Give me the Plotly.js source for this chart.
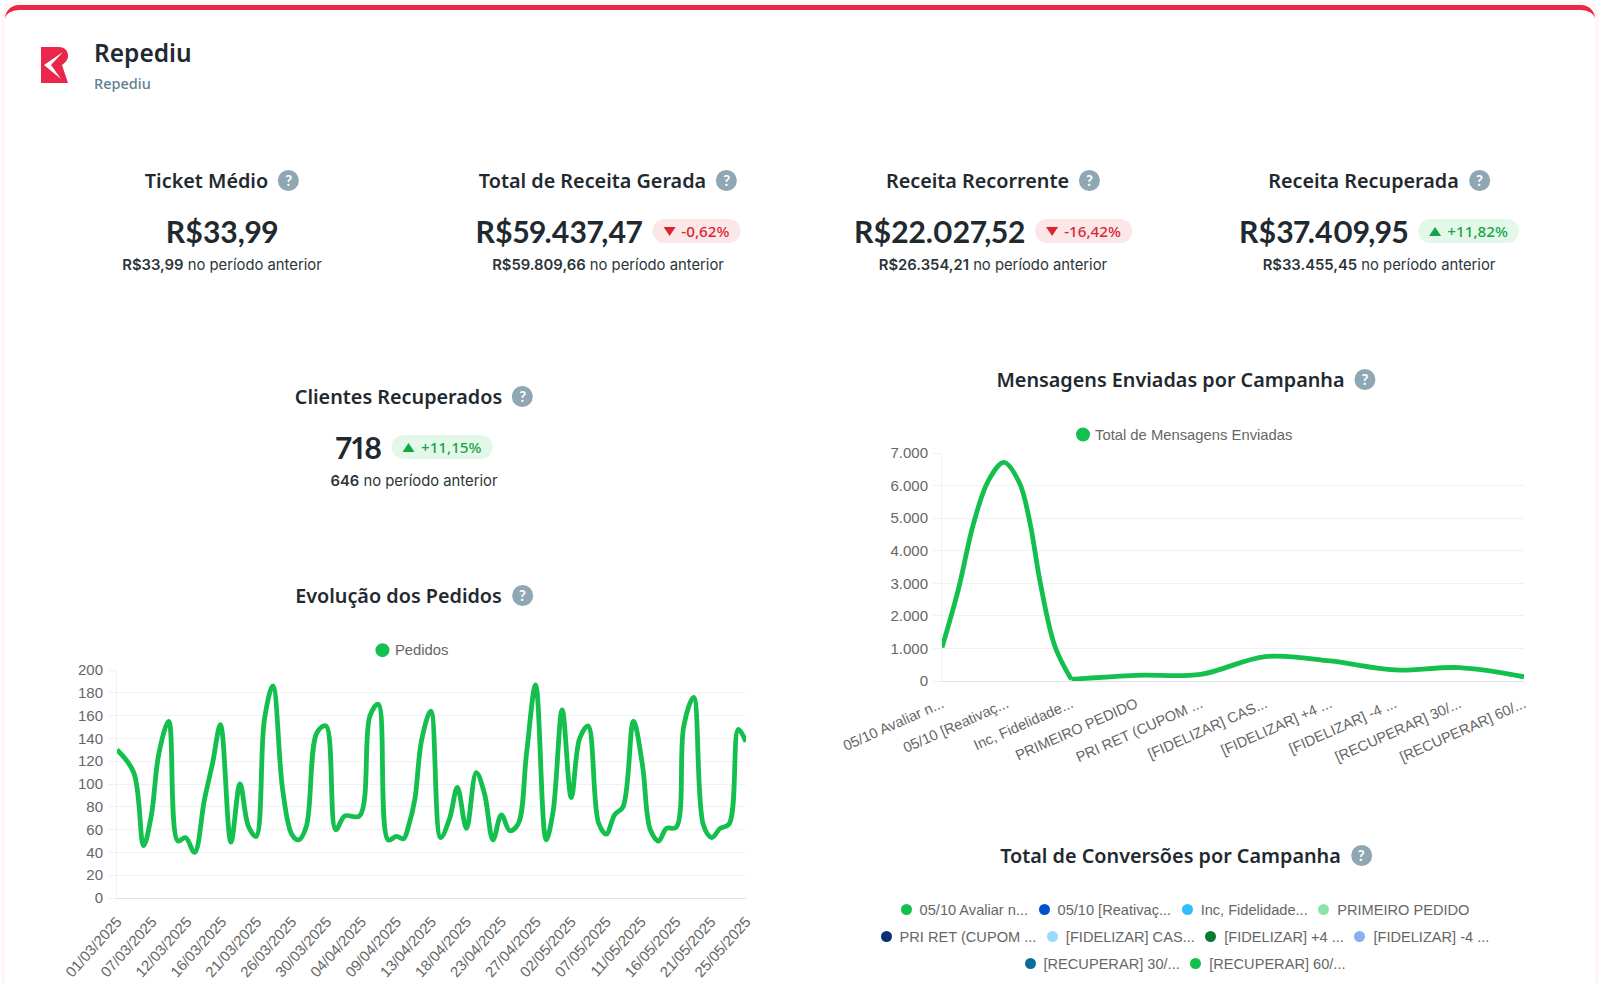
<!DOCTYPE html>
<html><head><meta charset="utf-8">
<script src="https://cdn.plot.ly/plotly-3.0.1.min.js"></script>
<style>
html,body{margin:0;padding:0;background:#fff;width:1600px;height:984px;overflow:hidden;font-family:"Noto Sans",sans-serif;color:#1f2a30}
#card{position:absolute;left:5px;top:5px;width:1590px;height:1040px;background:#fff;border-top:5px solid #e8274b;border-radius:14px;box-shadow:0 0 0 4px #fff5f5;box-sizing:border-box}
.abs{position:absolute}
#logo{left:41px;top:47px}
#brand{left:94px;top:36px;font:600 24.5px "Noto Sans";color:#1f2a30}
#brandsub{left:94px;top:73px;font:500 14.5px "Noto Sans";color:#5f7f91}
.ttl{position:absolute;display:flex;align-items:center;justify-content:center;gap:10px;font:600 19.8px "Noto Sans";color:#1f2a30;transform:translateX(-50%);white-space:nowrap;height:24px}
.q{width:21px;height:21px;border-radius:50%;background:#8fa6b3;color:#fff;font:700 15px Lato;display:flex;align-items:center;justify-content:center}
.val{position:absolute;display:flex;align-items:center;gap:10px;transform:translateX(-50%);white-space:nowrap;height:36px;font:700 30.2px Lato;font-variant-numeric:proportional-nums;color:#1f2a30}
.badge{display:inline-flex;align-items:center;justify-content:center;gap:6px;height:24px;border-radius:12px;padding:0 11px;font:500 15.2px "Noto Sans"}
.badge.up{background:#e3f8e9;color:#14a544}.badge.down{background:#fbe7e7;color:#d92632}
.tri{width:0;height:0;border-left:6px solid transparent;border-right:6px solid transparent}
.up .tri{border-bottom:9px solid #14a544}.down .tri{border-top:9px solid #d92632}
.sub{position:absolute;transform:translateX(-50%);white-space:nowrap;font:400 14.8px Inter;color:#2b353a;height:20px;line-height:20px}
.sub b{font-weight:600}
#plotA{position:absolute;left:0;top:630px;width:780px;height:354px}
#plotB{position:absolute;left:800px;top:410px;width:780px;height:370px}
#convLegend{position:absolute;left:865px;top:899.5px;width:640px;display:flex;flex-wrap:wrap;justify-content:center;row-gap:7px;column-gap:10.5px;font:14.6px "Liberation Sans";color:#666}
#convLegend span.i{display:inline-flex;align-items:center;gap:8px;height:20px}
#convLegend i{width:11px;height:11px;border-radius:50%;display:inline-block}
</style></head><body>
<div id="card"></div>
<svg id="logo" class="abs" width="27" height="36" viewBox="0 0 27 36"><path fill="#e8274b" d="M0 0H18C24 0 27 4 27 9C27 13 24 16 21 18L27 36H0Z"/><polygon fill="#fff" points="22,5 3,18 20,32 10,18"/></svg>
<div id="brand" class="abs">Repediu</div>
<div id="brandsub" class="abs">Repediu</div>
<div id="kpis"></div>
<div id="plotA"></div>
<div id="plotB"></div>
<div id="convLegend"></div>
<script>
// KPI content
const kpiTitles=["Ticket Médio","Total de Receita Gerada","Receita Recorrente","Receita Recuperada","Clientes Recuperados"];
const kpiValues=["R$33,99","R$59.437,47","R$22.027,52","R$37.409,95","718"];
const kpiDeltas=[null,"-0,62%","-16,42%","+11,82%","+11,15%"];
const kpiPrev=["R$33,99","R$59.809,66","R$26.354,21","R$33.455,45","646"];
const kpiCenters=[222,608,993,1379,414];
const kpiTops=[168,168,168,168,384];
const sectionTitles=["Mensagens Enviadas por Campanha","Evolução dos Pedidos","Total de Conversões por Campanha"];
const sectionCenters=[1186,414,1186];
const sectionTops=[367,583,843];

// Evolução dos Pedidos
const pedidosTickLabels=["01/03/2025","07/03/2025","12/03/2025","16/03/2025","21/03/2025","26/03/2025","30/03/2025","04/04/2025","09/04/2025","13/04/2025","18/04/2025","23/04/2025","27/04/2025","02/05/2025","07/05/2025","11/05/2025","16/05/2025","21/05/2025","25/05/2025"];
const pedidosPos=[0,2.4,3.8,4.9,6,7.4,8.7,9.8,11.1,12.5,13.7,14.8,16.3,17.6,18.8,19.9,21.1,22.3,23.7,25,26,27.1,28.6,29.9,31.3,32.6,34.7,36.2,37.4,38.8,40,41,41.7,42.6,43.6,44.9,46.3,47.6,48.7,50,51.4,52.6,53.8,55,56.2,57.4,58.6,59.9,61.4,62.4,63.7,65,66.2,67.4,68.9,70,71.2,72.4,73.9,75.2,76.3,77.5,78.6,80,81.1,82.5,83.9,85.1,86.3,87.6,88.9,90];
const pedidosValues=[130,110,46,72,127,155,50,53,40,86,119,152,49,100,63,54,157,186,95,56,51,63,145,151,60,72,72,160,170,51,54,52,63,86,139,164,53,70,97,61,110,91,51,73,59,65,127,187,51,76,165,88,140,151,66,56,73,80,155,116,60,50,61,62,151,176,64,53,61,65,148,137];

// Mensagens Enviadas por Campanha (curve)
const campanhaLabels=["05/10 Avaliar n...","05/10 [Reativaç...","Inc, Fidelidade...","PRIMEIRO PEDIDO","PRI RET (CUPOM ...","[FIDELIZAR] CAS...","[FIDELIZAR] +4 ...","[FIDELIZAR] -4 ...","[RECUPERAR] 30/...","[RECUPERAR] 60/..."];
const mensagensPosA=[0,0.252,0.484,0.716,0.958,1.195,1.36,1.515,1.747,2];
const mensagensValuesA=[1028,2805,4810,6146,6710,6095,4860,3063,1060,50];
const mensagensPosB=[2,3,4,5,6,7,8,9];
const mensagensValuesB=[50,175,205,750,615,340,410,130];
const mensagensTicks=[0,1000,2000,3000,4000,5000,6000,7000];
const mensagensTickText=["0","1.000","2.000","3.000","4.000","5.000","6.000","7.000"];
const conversoesColors=["#13bf4d","#0052cc","#33bbff","#8ae6a8","#0a2f73","#99daff","#0a7a33","#85b2ee","#0a6e99","#13bf4d"];

const GREEN="#13bf4d",GRID="#eef2f4",AXIS="#e0e3e6",TXT="#666666",FONT="Liberation Sans";
const q='<span class="q">?</span>';
let html="";
kpiTitles.forEach((t,i)=>{
  const c=kpiCenters[i],y=kpiTops[i];
  html+=`<div class="ttl" style="left:${c}px;top:${y}px">${t}${q}</div>`;
  let b="";
  if(kpiDeltas[i]){const up=kpiDeltas[i][0]=="+";b=`<span class="badge ${up?"up":"down"}"><span class="tri"></span>${kpiDeltas[i]}</span>`;}
  html+=`<div class="val" style="left:${c}px;top:${y+45}px">${kpiValues[i]}${b}</div>`;
  html+=`<div class="sub" style="left:${c}px;top:${y+87}px"><b>${kpiPrev[i]}</b> no período anterior</div>`;
});
sectionTitles.forEach((t,i)=>{html+=`<div class="ttl" style="left:${sectionCenters[i]}px;top:${sectionTops[i]}px">${t}${q}</div>`;});
document.getElementById("kpis").innerHTML=html;
document.getElementById("convLegend").innerHTML=campanhaLabels.map((l,i)=>`<span class="i"><i style="background:${conversoesColors[i]}"></i>${l}</span>`).join("");

function yaxis(extra){return Object.assign({showgrid:true,gridcolor:GRID,gridwidth:1,showline:true,linecolor:GRID,linewidth:1,ticks:"outside",ticklen:8,tickcolor:GRID,ticklabelstandoff:2,zeroline:false,tickfont:{family:FONT,size:15,color:TXT},fixedrange:true},extra);}
function xaxis(extra){return Object.assign({showgrid:false,showline:true,linecolor:AXIS,linewidth:1,ticks:"outside",ticklen:8,tickcolor:"rgba(0,0,0,0)",zeroline:false,tickfont:{family:FONT,size:15,color:TXT},fixedrange:true},extra);}
function dot(x,y){return {type:"circle",xref:"paper",yref:"paper",xsizemode:"pixel",ysizemode:"pixel",xanchor:x,yanchor:y,x0:-7,x1:7,y0:-7,y1:7,fillcolor:GREEN,line:{width:0}};}
function lab(x,y,t){return {xref:"paper",yref:"paper",x:x,y:y,text:t,showarrow:false,xanchor:"left",yanchor:"middle",xshift:-3,font:{family:FONT,size:14.8,color:TXT}};}
const line={color:GREEN,width:4.8,shape:"spline",smoothing:1};

Plotly.newPlot("plotA",[
 {x:pedidosPos,y:pedidosValues,mode:"lines",line:line,name:"Pedidos",showlegend:false}
],{
 width:780,height:354,margin:{l:117.3,r:34,t:40,b:85.7,autoexpand:false},paper_bgcolor:"rgba(0,0,0,0)",plot_bgcolor:"rgba(0,0,0,0)",
 xaxis:xaxis({type:"linear",range:[0,90],tickvals:pedidosTickLabels.map((_,i)=>i*5),ticktext:pedidosTickLabels,tickangle:-48}),
 yaxis:yaxis({range:[0,200],dtick:20}),
 shapes:[dot(0.422,1.087)],annotations:[lab(0.443,1.087,"Pedidos")],showlegend:false
},{displayModeBar:false,staticPlot:true});

Plotly.newPlot("plotB",[
 {x:mensagensPosA,y:mensagensValuesA,mode:"lines",line:line,name:"Total de Mensagens Enviadas",showlegend:false},
 {x:mensagensPosB,y:mensagensValuesB,mode:"lines",line:line,name:"Total de Mensagens Enviadas",showlegend:false}
],{
 width:780,height:370,margin:{l:142,r:55.5,t:43,b:99,autoexpand:false},paper_bgcolor:"rgba(0,0,0,0)",plot_bgcolor:"rgba(0,0,0,0)",
 xaxis:xaxis({type:"linear",range:[0,9],tickvals:campanhaLabels.map((_,i)=>i),ticktext:campanhaLabels,tickangle:-24,tickfont:{family:FONT,size:14.6,color:TXT}}),
 yaxis:yaxis({range:[0,7000],tickvals:mensagensTicks,ticktext:mensagensTickText}),
 shapes:[dot(0.2423,1.081)],annotations:[lab(0.2646,1.081,"Total de Mensagens Enviadas")],showlegend:false
},{displayModeBar:false,staticPlot:true});
</script>
</body></html>
